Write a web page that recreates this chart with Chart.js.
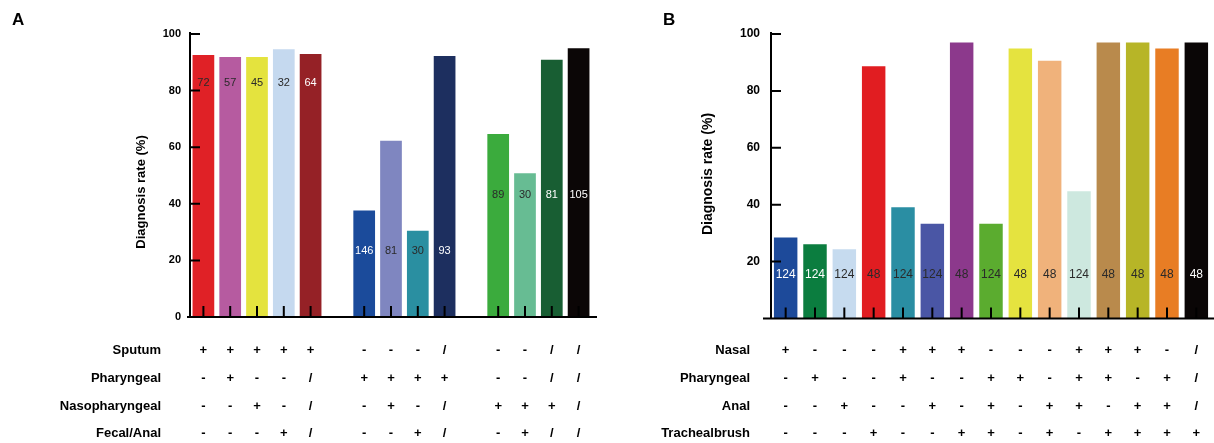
<!DOCTYPE html>
<html>
<head>
<meta charset="utf-8">
<script src="https://cdn.jsdelivr.net/npm/chart.js@4.4.1/dist/chart.umd.min.js"></script>
<style>
  body { margin: 0; background: #fff; }
  #wrap { position: relative; width: 1214px; height: 443px; }
  canvas { position: absolute; top: 0; }
  #chartA { left: 0; }
  #chartB { left: 600px; }
</style>
</head>
<body>
<div id="wrap">
  <canvas id="chartA" width="600" height="443"></canvas>
  <canvas id="chartB" width="614" height="443"></canvas>
</div>
<script>
// ---- panel A data (15 slots, two empty gaps between groups)
const categoriesA = ['A1', 'A2', 'A3', 'A4', 'A5', 'gap1', 'A6', 'A7', 'A8', 'A9', 'gap2', 'A10', 'A11', 'A12', 'A13'];
const valuesA = [92.6, 91.9, 91.9, 94.6, 92.9, null, 37.6, 62.3, 30.5, 92.2, null, 64.7, 50.8, 90.9, 95.0];
const countsA = [72, 57, 45, 32, 64, null, 146, 81, 30, 93, null, 89, 30, 81, 105];
const yTicksA = [0, 20, 40, 60, 80, 100];
const rowLabelsA = ['Sputum', 'Pharyngeal', 'Nasopharyngeal', 'Fecal/Anal'];
const rowsA = [
  ['+', '+', '+', '+', '+', '', '-', '-', '-', '/', '', '-', '-', '/', '/'],
  ['-', '+', '-', '-', '/', '', '+', '+', '+', '+', '', '-', '-', '/', '/'],
  ['-', '-', '+', '-', '/', '', '-', '+', '-', '/', '', '+', '+', '+', '/'],
  ['-', '-', '-', '+', '/', '', '-', '-', '+', '/', '', '-', '+', '/', '/']
];

// ---- panel B data
const categoriesB = ['B1', 'B2', 'B3', 'B4', 'B5', 'B6', 'B7', 'B8', 'B9', 'B10', 'B11', 'B12', 'B13', 'B14', 'B15'];
const valuesB = [28.5, 26.1, 24.3, 88.7, 39.1, 33.3, 97.0, 33.3, 94.9, 90.6, 44.7, 97.0, 97.0, 94.9, 97.0];
const countsB = [124, 124, 124, 48, 124, 124, 48, 124, 48, 48, 124, 48, 48, 48, 48];
const yTicksB = [20, 40, 60, 80, 100];
const rowLabelsB = ['Nasal', 'Pharyngeal', 'Anal', 'Trachealbrush'];
const rowsB = [
  ['+', '-', '-', '-', '+', '+', '+', '-', '-', '-', '+', '+', '+', '-', '/'],
  ['-', '+', '-', '-', '+', '-', '-', '+', '+', '-', '+', '+', '-', '+', '/'],
  ['-', '-', '+', '-', '-', '+', '-', '+', '-', '+', '+', '-', '+', '+', '/'],
  ['-', '-', '-', '+', '-', '-', '+', '+', '-', '+', '-', '+', '+', '+', '+']
];

const FONT = "'Liberation Sans', Arial, Helvetica, sans-serif";
const DARK = '#2a2a2a';

const colorsA = ['#e02126', '#b65ba0', '#e4e33e', '#c5d9ef', '#952126', null,
  '#1b4b9b', '#7f86c0', '#2a8fa1', '#1d2f5f', null,
  '#3bab3d', '#67bc93', '#185e33', '#0b0606'];
const countColorsA = [DARK, DARK, DARK, DARK, '#fff', null, '#fff', DARK, DARK, '#fff', null, DARK, DARK, '#fff', '#fff'];

const colorsB = ['#1d4a9a', '#0b7d3f', '#c6dbef', '#e11d21', '#2a8ea3', '#4a56a5', '#8c398c', '#5bac2f',
  '#e5e33f', '#f0b27b', '#cde8df', '#b98a4c', '#b7b527', '#e87d24', '#0a0606'];
const countColorsB = ['#fff', '#fff', DARK, DARK, DARK, DARK, DARK, DARK, DARK, DARK, DARK, DARK, DARK, DARK, '#fff'];

// axes, inner ticks, count labels, title, letter and the +/- table
const panelPlugin = {
  id: 'panel',
  afterDatasetsDraw(chart, args, o) {
    const { ctx, chartArea: a } = chart;
    const xs = chart.scales.x, ys = chart.scales.y;
    const data = chart.data.datasets[0].data;
    ctx.save();

    ctx.font = o.countFont;
    ctx.textAlign = 'center';
    ctx.textBaseline = 'middle';
    o.counts.forEach((n, i) => {
      if (n == null) return;
      ctx.fillStyle = o.countColors[i];
      ctx.fillText(String(n), xs.getPixelForValue(i), ys.getPixelForValue(o.labelAt(i)));
    });

    ctx.strokeStyle = '#000';
    ctx.lineWidth = 2;
    ctx.beginPath();
    ctx.moveTo(a.left, a.bottom + 1);
    ctx.lineTo(a.left, a.top - 2);
    ctx.moveTo(a.left - o.axisExt[0], a.bottom);
    ctx.lineTo(a.right + o.axisExt[1], a.bottom);
    ys.ticks.forEach(t => {
      const py = ys.getPixelForValue(t.value);
      ctx.moveTo(a.left, py);
      ctx.lineTo(a.left + 10, py);
    });
    data.forEach((v, i) => {
      if (v == null) return;
      const px = xs.getPixelForValue(i);
      ctx.moveTo(px, a.bottom);
      ctx.lineTo(px, a.bottom - 11);
    });
    ctx.stroke();
    ctx.restore();
  },
  afterDraw(chart, args, o) {
    const { ctx, chartArea: a } = chart;
    const xs = chart.scales.x;
    ctx.save();
    ctx.fillStyle = '#000';

    // rotated y title
    ctx.save();
    ctx.translate(o.titleX, o.titleY);
    ctx.rotate(-Math.PI / 2);
    ctx.font = o.titleFont;
    ctx.textAlign = 'center';
    ctx.textBaseline = 'middle';
    ctx.fillText('Diagnosis rate (%)', 0, 0);
    ctx.restore();

    // panel letter
    ctx.font = 'bold 17px ' + FONT;
    ctx.textAlign = 'left';
    ctx.textBaseline = 'alphabetic';
    ctx.fillText(o.letter, o.letterX, 25);

    // table under the bars
    ctx.font = 'bold 13px ' + FONT;
    ctx.textBaseline = 'middle';
    o.rowLabels.forEach((lab, r) => {
      const py = o.rowY[r];
      ctx.textAlign = 'right';
      ctx.fillText(lab, o.rowLabelX, py);
      ctx.textAlign = 'center';
      o.rows[r].forEach((s, i) => {
        if (s) ctx.fillText(s, xs.getPixelForValue(i), py);
      });
    });
    ctx.restore();
  }
};

function makeChart(id, cfg) {
  return new Chart(document.getElementById(id), {
    type: 'bar',
    data: {
      labels: cfg.categories,
      datasets: [{
        data: cfg.values,
        backgroundColor: cfg.colors,
        borderWidth: 0,
        categoryPercentage: 1,
        barPercentage: cfg.barPct
      }]
    },
    options: {
      responsive: false,
      animation: false,
      devicePixelRatio: 1,
      layout: { padding: cfg.padding },
      scales: {
        x: {
          display: false
        },
        y: {
          min: 0,
          max: 100,
          afterFit: s => { s.width = 60; },
          afterBuildTicks: s => { s.ticks = [0, 20, 40, 60, 80, 100].map(v => ({ value: v })); },
          grid: { display: false, drawTicks: false },
          border: { display: false },
          ticks: {
            padding: cfg.tickPad,
            color: '#000',
            font: { family: FONT, size: cfg.tickSize, weight: 'bold' },
            callback: v => (cfg.yTicks.includes(v) ? String(v) : '')
          }
        }
      },
      plugins: {
        legend: { display: false },
        tooltip: { enabled: false },
        panel: {
          counts: cfg.counts,
          countColors: cfg.countColors,
          countFont: cfg.countFont,
          labelAt: cfg.labelAt,
          axisExt: cfg.axisExt,
          titleX: cfg.titleX,
          titleY: cfg.titleY,
          titleFont: cfg.titleFont,
          letter: cfg.letter,
          letterX: cfg.letterX,
          rowLabels: cfg.rowLabels,
          rows: cfg.rows,
          rowY: [350, 378, 406, 433],
          rowLabelX: cfg.rowLabelX
        }
      }
    },
    plugins: [panelPlugin]
  });
}

makeChart('chartA', {
  categories: categoriesA, values: valuesA, colors: colorsA, barPct: 0.81,
  padding: { left: 130, right: 8, top: 34, bottom: 126 },
  tickPad: 9, tickSize: 11, yTicks: yTicksA,
  counts: countsA, countColors: countColorsA, countFont: '11px ' + FONT,
  labelAt: i => (i < 5 ? 82.7 : i < 10 ? 23.3 : 43.1),
  axisExt: [3, 5],
  titleX: 141, titleY: 192, titleFont: 'bold 13px ' + FONT,
  letter: 'A', letterX: 12,
  rowLabels: rowLabelsA, rows: rowsA, rowLabelX: 161
});

makeChart('chartB', {
  categories: categoriesB, values: valuesB, colors: colorsB, barPct: 0.8,
  padding: { left: 111, right: 3, top: 34, bottom: 124.5 },
  tickPad: 11, tickSize: 12, yTicks: yTicksB,
  counts: countsB, countColors: countColorsB, countFont: '12px ' + FONT,
  labelAt: () => 15.3,
  axisExt: [8, 4],
  titleX: 108.5, titleY: 174, titleFont: 'bold 14px ' + FONT,
  letter: 'B', letterX: 63,
  rowLabels: rowLabelsB, rows: rowsB, rowLabelX: 150
});
</script>
</body>
</html>
